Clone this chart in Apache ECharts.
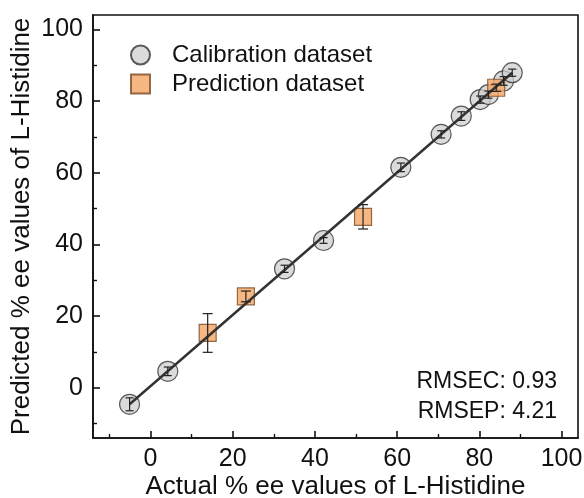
<!DOCTYPE html>
<html>
<head>
<meta charset="utf-8">
<script src="https://cdn.jsdelivr.net/npm/echarts@6/dist/echarts.min.js"></script>
<style>html,body{margin:0;padding:0;background:#fff}#c{width:584px;height:498px}</style>
</head>
<body>
<div id="c"></div>
<script>
// ---- data ----
const calX = [-5.1, 4.2, 32.6, 42.1, 60.9, 70.7, 75.6, 80.2, 82.2, 85.9, 88.0];
const calY = [-4.6, 4.6, 33.2, 41.1, 61.5, 70.7, 75.8, 80.4, 81.8, 85.6, 87.9];
const calErr = [1.8, 1.2, 1.0, 0.8, 1.2, 1.0, 1.2, 1.0, 1.0, 1.2, 1.0];
const predX = [13.9, 23.2, 51.7, 84.1];
const predY = [15.3, 25.5, 47.7, 83.7];
const predErr = [5.4, 1.5, 3.4, 1.0];
const fitX = [-5.1, 88.0];
const fitY = [-4.6, 87.9];
const majorTicks = [0, 20, 40, 60, 80, 100];
const minorTicks = [-10, 10, 30, 50, 70, 90];
const statsText = ['RMSEC: 0.93', 'RMSEP: 4.21'];
const xName = 'Actual % ee values of L-Histidine';
const yName = 'Predicted % ee values of L-Histidine';

const FONT = "'Liberation Sans', Arial, Helvetica, sans-serif";
const AX_MIN = -14, AX_MAX = 104;

const pts = (xs, ys) => xs.map((x, i) => [x, ys[i]]);
const errData = (xs, ys, es) => xs.map((x, i) => [x, ys[i] - es[i], ys[i] + es[i]]);

function errRender(cap) {
  return function (params, api) {
    const x = api.value(0);
    const lo = api.coord([x, api.value(1)]);
    const hi = api.coord([x, api.value(2)]);
    const st = { stroke: '#222', lineWidth: 1.2 };
    return {
      type: 'group',
      children: [
        { type: 'line', shape: { x1: lo[0], y1: lo[1], x2: hi[0], y2: hi[1] }, style: st },
        { type: 'line', shape: { x1: lo[0] - cap, y1: lo[1], x2: lo[0] + cap, y2: lo[1] }, style: st },
        { type: 'line', shape: { x1: hi[0] - cap, y1: hi[1], x2: hi[0] + cap, y2: hi[1] }, style: st }
      ]
    };
  };
}

function axisPair(dim) {
  const common = {
    type: 'value', min: AX_MIN, max: AX_MAX,
    splitLine: { show: false }
  };
  const isX = dim === 'x';
  const main = Object.assign({}, common, {
    position: isX ? 'bottom' : 'left',
    name: isX ? xName : yName,
    nameLocation: 'middle',
    nameGap: isX ? 36 : 58,
    nameMoveOverlap: false,
    nameTextStyle: { fontFamily: FONT, fontSize: 26, color: '#111' },
    axisLine: { show: true, onZero: false, lineStyle: { color: '#111', width: 1.6 } },
    axisTick: { show: true, inside: true, length: 7, customValues: majorTicks, lineStyle: { color: '#111', width: 1.6 } },
    axisLabel: { show: true, customValues: majorTicks, fontFamily: FONT, fontSize: 25, color: '#111', margin: isX ? 9 : 10 }
  });
  const minor = Object.assign({}, common, {
    position: isX ? 'bottom' : 'left',
    axisLine: { show: false, onZero: false },
    axisTick: { show: true, inside: true, length: 4, customValues: minorTicks, lineStyle: { color: '#111', width: 1.4 } },
    axisLabel: { show: false }
  });
  return [main, minor];
}

const chart = echarts.init(document.getElementById('c'), null, { renderer: 'canvas' });
chart.setOption({
  animation: false,
  backgroundColor: '#fff',
  grid: {
    left: 93, right: 6, top: 15, bottom: 60, containLabel: false, outerBoundsMode: 'none',
    show: true, borderColor: '#111', borderWidth: 1.6, backgroundColor: 'transparent'
  },
  xAxis: axisPair('x'),
  yAxis: axisPair('y'),
  legend: {
    orient: 'vertical', left: 130, top: 43, padding: 0, itemWidth: 19, itemHeight: 19, itemGap: 5,
    textStyle: { fontFamily: FONT, fontSize: 24, color: '#111', padding: [0, 0, 0, 17] },
    data: [
      { name: 'Calibration dataset', icon: 'circle' },
      { name: 'Prediction dataset', icon: 'rect' }
    ]
  },
  graphic: [
    { type: 'text', right: 27, top: 370, style: { text: statsText[0], font: '23px ' + FONT, fill: '#111', textAlign: 'right' } },
    { type: 'text', right: 27, top: 400, style: { text: statsText[1], font: '23px ' + FONT, fill: '#111', textAlign: 'right' } }
  ],
  series: [
    {
      name: 'Calibration dataset', type: 'scatter', symbol: 'circle', symbolSize: 20, z: 2,
      data: pts(calX, calY),
      itemStyle: { color: 'rgba(205,205,205,0.9)', borderColor: '#333', borderWidth: 1.2 }
    },
    {
      name: 'Prediction dataset', type: 'scatter', symbol: 'rect', symbolSize: 17, z: 3,
      data: pts(predX, predY),
      itemStyle: { color: '#F5A563', borderColor: '#7a4a22', borderWidth: 1.2 }
    },
    {
      name: 'fit', type: 'line', data: pts(fitX, fitY), showSymbol: false, symbol: 'none', z: 4,
      lineStyle: { color: '#333', width: 2.5 }
    },
    {
      name: 'calErr', type: 'custom', z: 5, renderItem: errRender(4),
      data: errData(calX, calY, calErr), encode: { x: 0, y: [1, 2] }
    },
    {
      name: 'predErr', type: 'custom', z: 5, renderItem: errRender(5),
      data: errData(predX, predY, predErr), encode: { x: 0, y: [1, 2] }
    }
  ]
});
</script>
</body>
</html>
